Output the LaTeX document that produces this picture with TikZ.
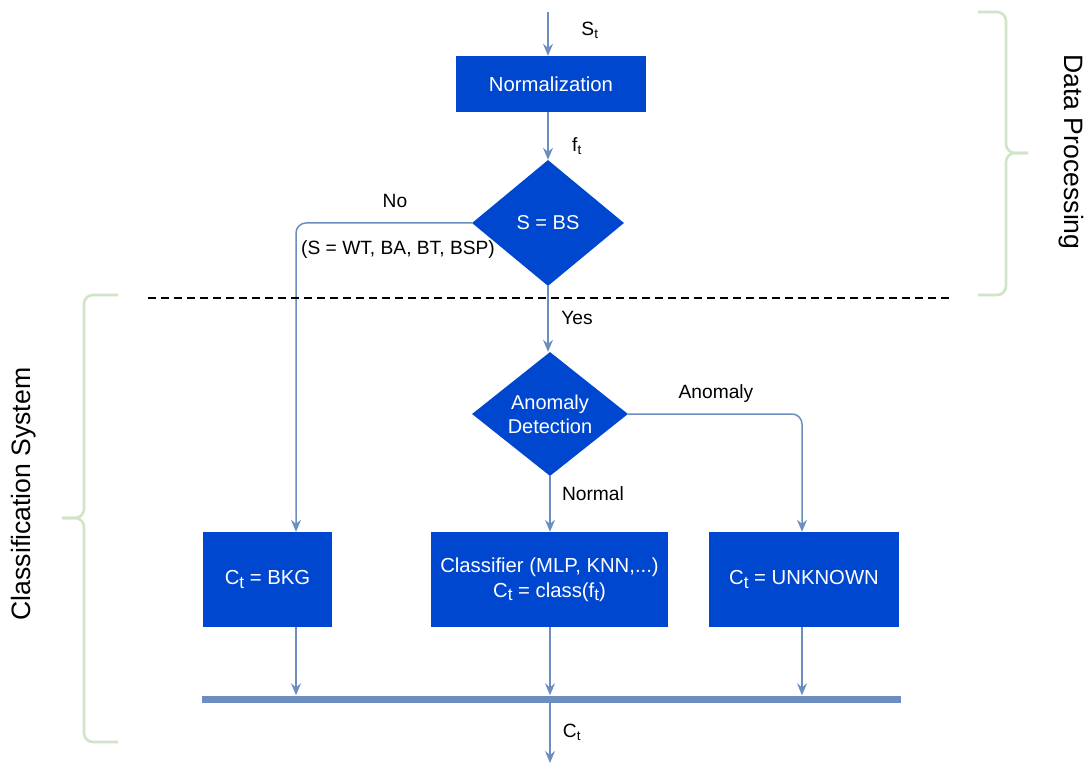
\documentclass[tikz,border=0pt]{standalone}
\usepackage{fontspec}
\setmainfont{Liberation Sans}
\usetikzlibrary{arrows.meta,shapes.geometric}
\definecolor{boxblue}{HTML}{0047CF}
\definecolor{linecol}{HTML}{6C8EBF}
\definecolor{bracecol}{HTML}{D0E4C8}
\newcommand\bsub[1]{\raisebox{-0.32ex}{\scalebox{0.85}{#1}}}
\tikzset{
  blk/.style={fill=boxblue, draw=none, text=white, inner sep=0pt, align=center,
    font=\fontsize{20.3}{25}\selectfont},
  dmd/.style={diamond, fill=boxblue, draw=none, inner sep=0pt},
  dtxt/.style={text=white, align=center, font=\fontsize{20}{24}\selectfont},
  lbl/.style={font=\fontsize{19.2}{23}\selectfont, inner sep=0pt},
  arr/.style={draw=linecol, line width=1.5pt, -{Stealth[length=12pt,width=10pt,inset=4pt]}},
  brace/.style={draw=bracecol, line width=2.6pt, rounded corners=9pt},
  side/.style={font=\fontsize{26.6}{32}\selectfont, inner sep=0pt}
}
\begin{document}
\begin{tikzpicture}[x=1pt,y=-1pt]
\useasboundingbox (0,0) rectangle (1090,767);
% nodes
\coordinate (in) at (548,12);
\node[blk, minimum width=190, minimum height=56] (norm) at (551,84) {Normalization};
\node[dmd, minimum width=152, minimum height=126] (d1) at (548,223) {};
\node[dtxt] at (d1) {S = BS};
\node[dmd, minimum width=156, minimum height=124] (d2) at (550,414) {};
\node[dtxt] at (d2) {Anomaly\\Detection};
\node[blk, minimum width=129, minimum height=95] (bkg) at (267.5,579.5) {C\bsub{t} = BKG};
\node[blk, minimum width=237, minimum height=95] (cls) at (549.5,579.5) {Classifier (MLP, KNN,...)\\C\bsub{t} = class(f\bsub{t})};
\node[blk, minimum width=190, minimum height=95] (unk) at (804,579.5) {C\bsub{t} = UNKNOWN};
\node[fill=linecol, inner sep=0pt, minimum width=699, minimum height=7] (bar) at (551.5,699) {};
\coordinate (out) at (550,763);
% connectors
\draw[arr] (in) -- (in |- norm.north);
\draw[arr] (norm.south -| d1.north) -- (d1.north);
\draw[arr, rounded corners=10pt] (d1.west) -| (bkg.north -| 296,0);
\draw[arr] (d1.south) -- (d2.north -| d1.south);
\draw[arr] (d2.south) -- (cls.north -| d2.south);
\draw[arr, rounded corners=10pt] (d2.east) -| (unk.north -| 802,0);
\draw[arr] (bkg.south -| 296,0) -- (bar.north -| 296,0);
\draw[arr] (cls.south -| 550,0) -- (bar.north -| 550,0);
\draw[arr] (unk.south -| 802,0) -- (bar.north -| 802,0);
\draw[arr] (bar.south -| out) -- (out);
% labels
\node[lbl] at (590,30) {S\textsubscript{t}};
\node[lbl] at (577,146) {f\textsubscript{t}};
\node[lbl] at (395,201) {No};
\node[lbl] at (398,250) {(S = WT, BA, BT, BSP)};
\node[lbl] at (577,318) {Yes};
\node[lbl] at (716,394) {Anomaly};
\node[lbl] at (593,494) {Normal};
\node[lbl] at (572,732) {C\textsubscript{t}};
% dashed separator
\draw[line width=2.5pt, dash pattern=on 8pt off 5pt] (148,298) -- (952,298);
% braces
\draw[brace] (978,12) -| (1006,153) -- (1028,153);
\draw[brace] (978,295) -| (1006,153) -- (1028,153);
\draw[brace] (118,295) -| (84,518) -- (62,518);
\draw[brace] (118,742) -| (84,518) -- (62,518);
\node[side, rotate=-90] at (1071,152) {Data Processing};
\node[side, rotate=90] at (24,494) {Classification System};
\end{tikzpicture}
\end{document}
